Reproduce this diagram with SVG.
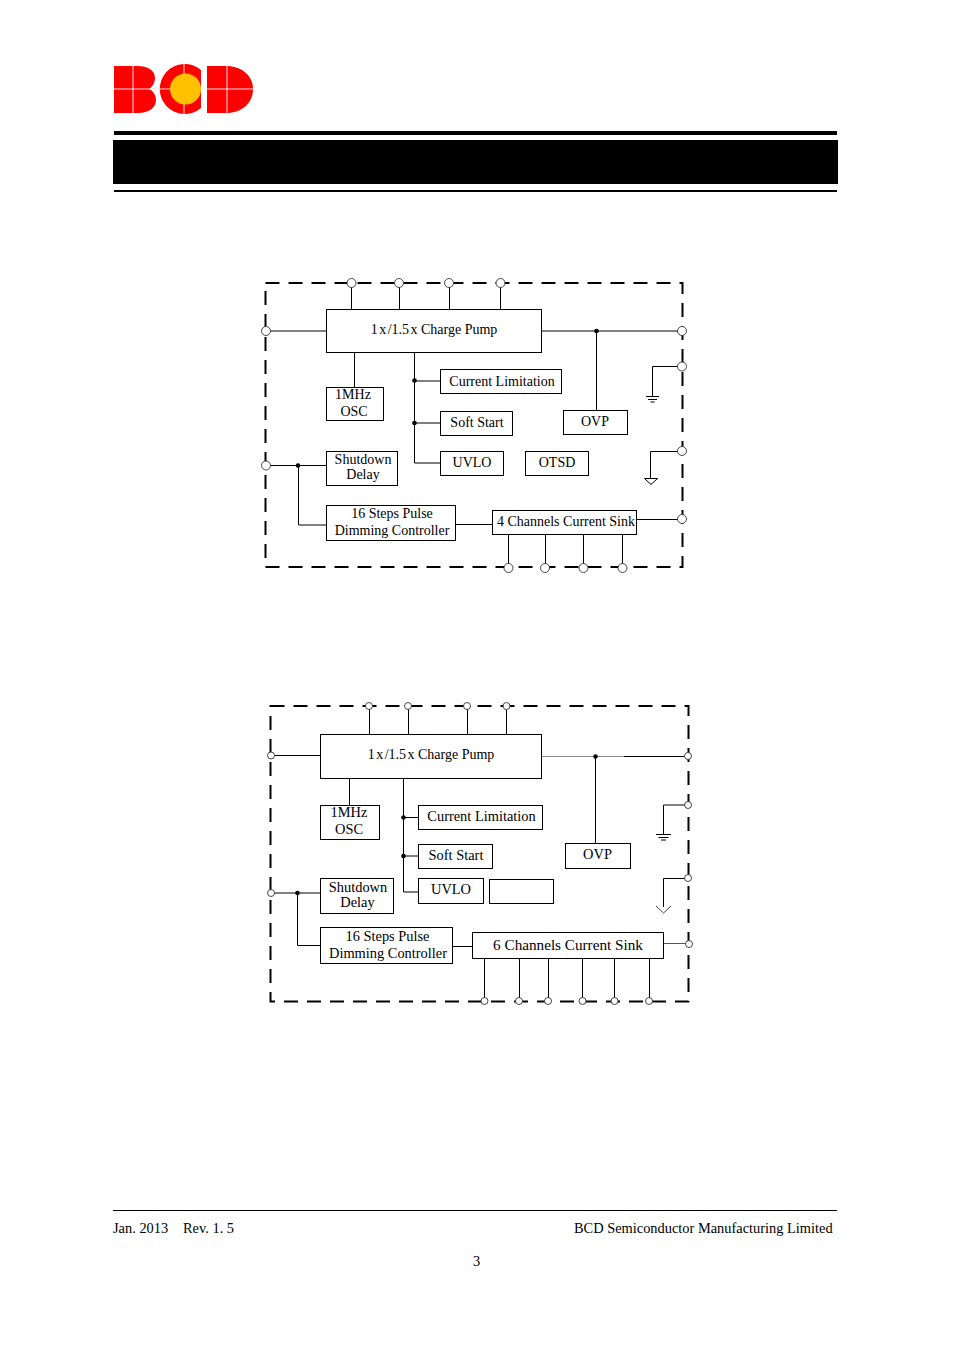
<svg xmlns="http://www.w3.org/2000/svg" width="954" height="1350" viewBox="0 0 954 1350">
<style>
.b{fill:#fff;stroke:#000;stroke-width:1}
.l{fill:none;stroke:#000;stroke-width:1}
.d{fill:none;stroke:#000;stroke-width:2;stroke-dasharray:14 9}
.p{fill:#fff;stroke:#333;stroke-width:.9}
.t{font-family:"Liberation Serif","Times New Roman",serif;font-size:14px;fill:#000;text-anchor:middle}
.u{font-size:14.400px}
.v{font-size:15.200px}
.f{font-family:"Liberation Serif","Times New Roman",serif;font-size:14.400px;fill:#000}
.w{stroke:#fdd;stroke-width:1;fill:none}
</style>
<rect width="954" height="1350" fill="#fff"/>
<g id="logo">
<path d="M114 66H137C150 66 155 72 155 78C155 83 152 87 149 89C153 91 156 95 156 100C156 107 150 113 137 113H114Z" fill="#f00"/>
<path d="M201 70A25 25 0 1 0 201 108Z" fill="#f00"/>
<circle cx="185.500" cy="89" r="15.500" fill="#ffc000"/>
<path d="M207 66H226C242 66 253 76 253 89C253 103 242 113 226 113H207Z" fill="#f00"/>
<path class="w" d="M133 65V114M114 89H156M184 64V74M184 104V114M159 89H170M227 65V114M207 89H253"/>
</g>
<g id="header">
<rect x="114" y="131" width="723" height="4"/>
<rect x="113" y="140" width="725" height="44"/>
<rect x="114" y="190" width="723" height="2"/>
</g>
<g id="connectors-1">
<path class="l" d="M351.500 283V310M399.500 283V310M449.500 283V310M500.500 283V310M266 331H326M542 331H682M596.500 331V411M354.500 353V388M414.500 353V463H441M414.500 381H441M414.500 423H441M266 465.500H327M298.500 465.500V525H327M456 524.500H493M637 519.500H682M508.500 535V568M545.500 535V568M583.500 535V568M622.500 535V568"/>
<path class="l" d="M682 366.500H652.500V396M646 396.500H659M648 399.500H657M650.500 402H654.500M682 451.500H650.500V478M644.500 478.500H657.500L651 484.500Z"/>
</g>
<g id="diagram-1">
<rect class="d" x="265.500" y="283" width="417" height="284"/>
<circle cx="596.500" cy="331" r="2.300"/><circle cx="414.500" cy="380.500" r="2.300"/><circle cx="414.500" cy="423" r="2.300"/><circle cx="298" cy="465.500" r="2.300"/>
<g id="pins-1"><circle class="p" cx="351.500" cy="283" r="4.500"/><circle class="p" cx="399" cy="283" r="4.500"/><circle class="p" cx="449" cy="283" r="4.500"/><circle class="p" cx="500.500" cy="283" r="4.500"/><circle class="p" cx="266" cy="331" r="4.500"/><circle class="p" cx="266" cy="465.500" r="4.500"/><circle class="p" cx="682" cy="331" r="4.500"/><circle class="p" cx="682" cy="366.500" r="4.500"/><circle class="p" cx="682" cy="451" r="4.500"/><circle class="p" cx="682" cy="519" r="4.500"/><circle class="p" cx="508.500" cy="568" r="4.500"/><circle class="p" cx="545" cy="568" r="4.500"/><circle class="p" cx="583.500" cy="568" r="4.500"/><circle class="p" cx="622.500" cy="568" r="4.500"/></g>
</g>
<g id="pump-1"><rect class="b" x="326.500" y="309.500" width="215" height="43"/><text class="t" x="434" y="334">1<tspan dx="1.500">x</tspan><tspan dx="1.500">/</tspan>1.5<tspan dx="1.500">x</tspan> Charge Pump</text></g>
<g id="osc-1"><rect class="b" x="326.500" y="387.500" width="57" height="33"/><text class="t" x="353" y="399">1MHz</text><text class="t" x="354" y="416">OSC</text></g>
<g id="cl-1"><rect class="b" x="440.500" y="369.500" width="121" height="24"/><text class="t" x="502" y="386">Current Limitation</text></g>
<g id="ss-1"><rect class="b" x="440.500" y="411.500" width="72" height="24"/><text class="t" x="477" y="427">Soft Start</text></g>
<g id="uvlo-1"><rect class="b" x="440.500" y="451.500" width="63" height="24"/><text class="t" x="472" y="467">UVLO</text></g>
<g id="otsd-1"><rect class="b" x="525.500" y="451.500" width="63" height="24"/><text class="t" x="557" y="467">OTSD</text></g>
<g id="ovp-1"><rect class="b" x="563.500" y="410.500" width="64" height="24"/><text class="t" x="595" y="426">OVP</text></g>
<g id="sd-1"><rect class="b" x="326.500" y="451.500" width="71" height="34"/><text class="t" x="363" y="464">Shutdown</text><text class="t" x="363" y="479">Delay</text></g>
<g id="dim-1"><rect class="b" x="326.500" y="505.500" width="129" height="35"/><text class="t" x="392" y="518">16 Steps Pulse</text><text class="t" x="392" y="535">Dimming Controller</text></g>
<g id="sink-1"><rect class="b" x="492.500" y="510.500" width="144" height="24"/><text class="t" x="566" y="526">4 Channels Current Sink</text></g>
<g id="connectors-2">
<path class="l" d="M369.500 706V734M408.500 706V734M467.500 706V734M506.500 706V734M271 755.500H320M349.500 779V806M403.500 779V892H418M403.500 817.500H418M403.500 856H418M271 893H320M297.500 893V945.500H320M453 946.500H472M484.500 959V1001M519.500 959V1001M548.500 959V1001M582.500 959V1001M614.500 959V1001M649.500 959V1001"/>
<path stroke="#888" fill="none" d="M542 756.500H624"/><path class="l" d="M624 756.500H688"/><path stroke="#555" fill="none" d="M664 943.500H689"/><path class="l" d="M595.500 757V843"/>
<path class="l" d="M688 805H663.500V834M656 834.500H671M658.500 837.500H668.500M661 840H666M688 878.500H663.500V907"/><path stroke="#444" fill="none" d="M656 906L663.500 913L671 906"/>
</g>
<g id="diagram-2">
<rect class="d" x="270.500" y="706" width="418" height="295.500"/>
<circle cx="595.500" cy="756.500" r="2.300"/><circle cx="403.500" cy="817.500" r="2.300"/><circle cx="403.500" cy="856" r="2.300"/><circle cx="297.500" cy="893" r="2.300"/>
<g id="pins-2"><circle class="p" cx="369" cy="706" r="3.500"/><circle class="p" cx="408" cy="706" r="3.500"/><circle class="p" cx="467" cy="706" r="3.500"/><circle class="p" cx="506.500" cy="706" r="3.500"/><circle class="p" cx="271" cy="755.500" r="3.500"/><circle class="p" cx="271" cy="893" r="3.500"/><circle class="p" cx="688" cy="756" r="3.500"/><circle class="p" cx="688" cy="805" r="3.500"/><circle class="p" cx="688" cy="878" r="3.500"/><circle class="p" cx="689" cy="944" r="3.500"/><circle class="p" cx="484.500" cy="1001" r="3.500"/><circle class="p" cx="519" cy="1001" r="3.500"/><circle class="p" cx="548" cy="1001" r="3.500"/><circle class="p" cx="582.500" cy="1001" r="3.500"/><circle class="p" cx="614.500" cy="1001" r="3.500"/><circle class="p" cx="649" cy="1001" r="3.500"/></g>
</g>
<g id="pump-2"><rect class="b" x="320.500" y="734.500" width="221" height="44"/><text class="t" x="431" y="759">1<tspan dx="1.500">x</tspan><tspan dx="1.500">/</tspan>1.5<tspan dx="1.500">x</tspan> Charge Pump</text></g>
<g id="osc-2"><rect class="b" x="320.500" y="805.500" width="59" height="34"/><text class="t u" x="349" y="817">1MHz</text><text class="t u" x="349" y="834">OSC</text></g>
<g id="cl-2"><rect class="b" x="418.500" y="805.500" width="124" height="24"/><text class="t u" x="481.500" y="821">Current Limitation</text></g>
<g id="ss-2"><rect class="b" x="418.500" y="844.500" width="74" height="24"/><text class="t u" x="456" y="860">Soft Start</text></g>
<g id="uvlo-2"><rect class="b" x="418.500" y="878.500" width="65" height="25"/><text class="t u" x="451" y="894">UVLO</text></g>
<g id="blank-2"><rect class="b" x="489.500" y="879.500" width="64" height="24"/></g>
<g id="ovp-2"><rect class="b" x="565.500" y="843.500" width="65" height="25"/><text class="t u" x="597.500" y="859">OVP</text></g>
<g id="sd-2"><rect class="b" x="320.500" y="878.500" width="73" height="35"/><text class="t u" x="358" y="892">Shutdown</text><text class="t u" x="357.500" y="907">Delay</text></g>
<g id="dim-2"><rect class="b" x="320.500" y="927.500" width="132" height="36"/><text class="t u" x="387.500" y="941">16 Steps Pulse</text><text class="t u" x="388" y="958">Dimming Controller</text></g>
<g id="sink-2"><rect class="b" x="472.500" y="932.500" width="191" height="26"/><text class="t v" x="568" y="950">6 Channels Current Sink</text></g>
<g id="footer">
<path class="l" d="M113 1210.500H837"/>
<text class="f" x="113" y="1233">Jan. 2013</text><text class="f" x="183" y="1233">Rev. 1. 5</text>
<text class="f" x="574" y="1233">BCD Semiconductor Manufacturing Limited</text>
<text class="f" x="473" y="1266">3</text>
</g>
</svg>
